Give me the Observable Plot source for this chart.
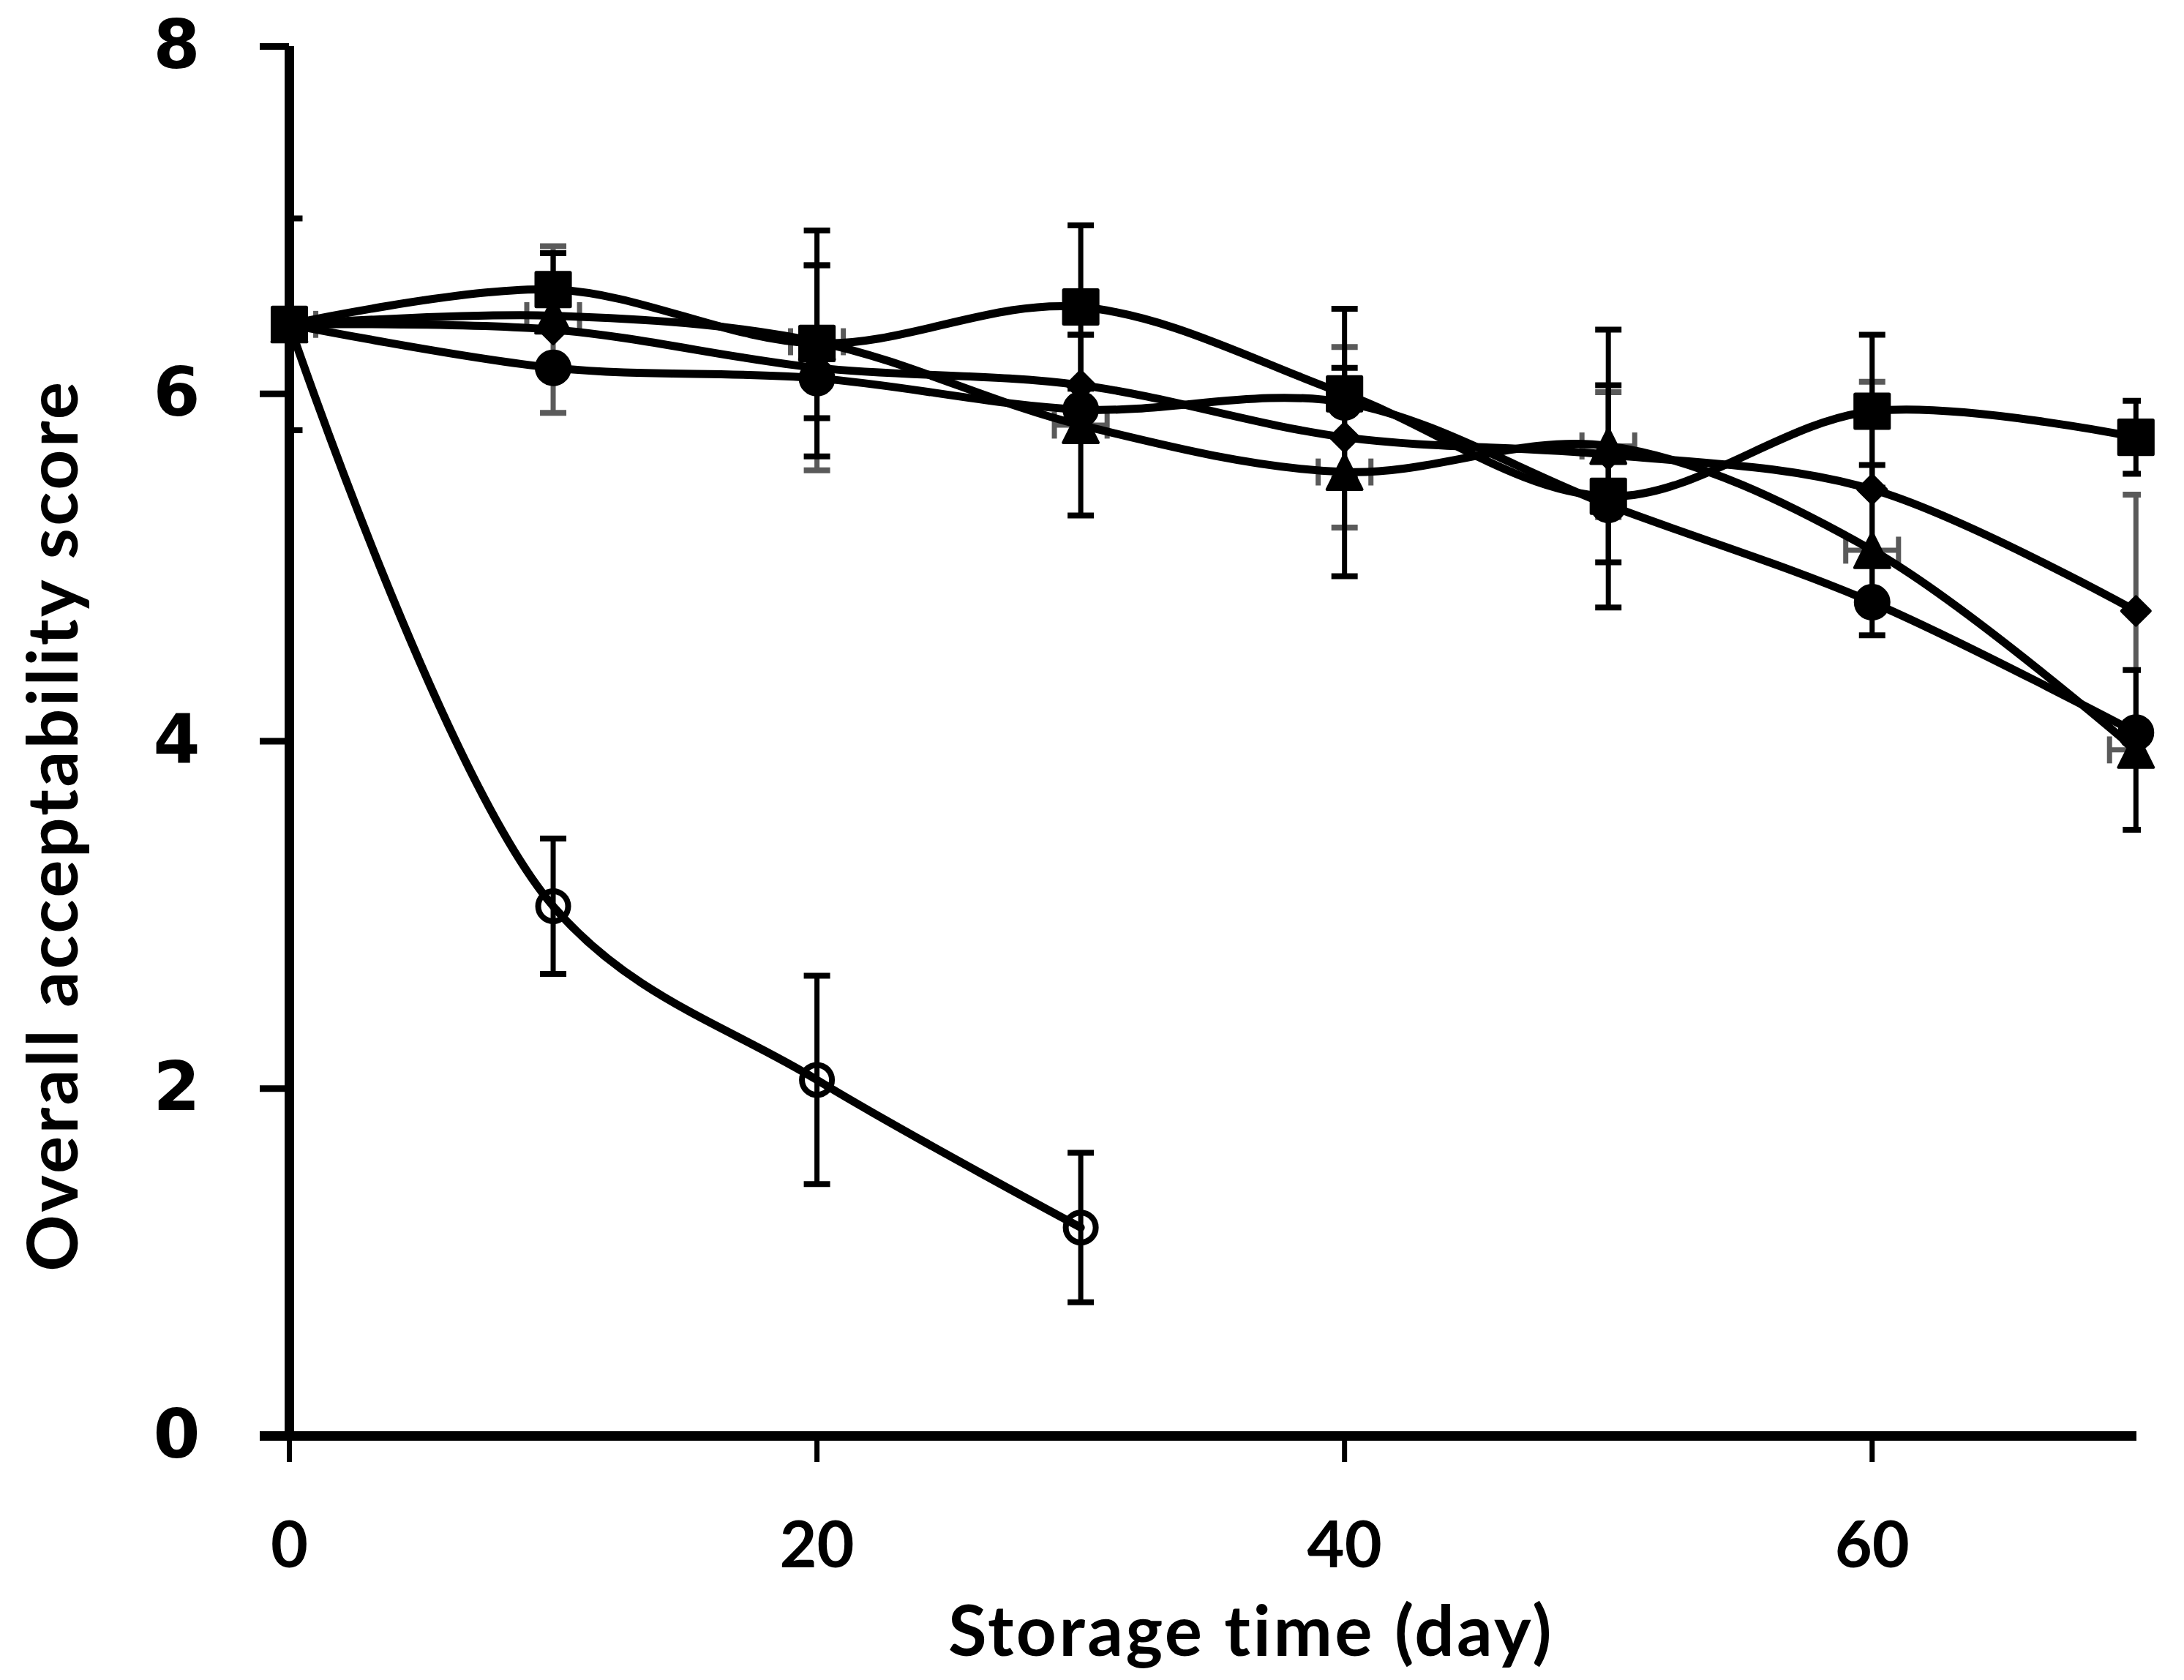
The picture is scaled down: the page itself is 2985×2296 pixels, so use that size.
<!DOCTYPE html>
<html>
<head>
<meta charset="utf-8">
<script src="https://cdn.jsdelivr.net/npm/d3@7"></script>
<script src="https://cdn.jsdelivr.net/npm/@observablehq/plot@0.6"></script>
<style>
  html, body { margin: 0; padding: 0; background: #ffffff; }
</style>
</head>
<body>
<div id="chart"></div>
<script>
// Sampling days for the four stored treatments
const days = [0, 10, 20, 30, 40, 50, 60, 70];

// Filled squares: mean score and standard deviation
const squareScore = [6.40, 6.60, 6.29, 6.50, 6.00, 5.41, 5.90, 5.75];
const squareSd    = [0.61, 0.21, 0.65, 0.47, 0.49, 0.64, 0.44, 0.21];

// Filled triangles (also carry a ±1 day spread on the time axis)
const triangleScore = [6.40, 6.45, 6.30, 5.82, 5.55, 5.70, 5.10, 3.95];
const triangleSd    = [null, null, 0.44, 0.52, 0.60, 0.67, 0.49, 0.46];
const triangleDaySpread = 1;

// Filled diamonds
const diamondScore = [6.40, 6.37, 6.15, 6.05, 5.75, 5.65, 5.45, 4.75];
const diamondSd    = [null, 0.48, 0.59, 0.29, 0.52, 0.36, 0.62, 0.67];

// Filled circles
const circleScore = [6.40, 6.15, 6.09, 5.91, 5.95, 5.36, 4.80, 4.05];

// Open circles (control, stopped after day 30)
const controlDays  = [0, 10, 20, 30];
const controlScore = [6.40, 3.05, 2.05, 1.20];
const controlSd    = [null, 0.39, 0.60, 0.43];

// Axes
const xTicks = [0, 20, 40, 60];
const yTicks = [0, 2, 4, 6, 8];
const xTitle = "Storage time (day)";
const yTitle = "Overall acceptability score";

const black = "#000000";
const gray = "#5a5a5a";

const seriesList = [
  {name: "square",   days, score: squareScore,   sd: squareSd,   barColor: black},
  {name: "triangle", days, score: triangleScore, sd: triangleSd, barColor: black},
  {name: "diamond",  days, score: diamondScore,  sd: diamondSd,  barColor: gray},
  {name: "circle",   days, score: circleScore,   sd: null,       barColor: gray},
  {name: "control",  days: controlDays, score: controlScore, sd: controlSd, barColor: black}
];

const points = seriesList.flatMap(s => s.days.map((day, i) => ({
  series: s.name,
  day,
  score: s.score[i],
  sd: s.sd ? s.sd[i] : null,
  barColor: s.barColor
})));

const withSd = points.filter(d => d.sd != null);
const grayBars = withSd.filter(d => d.barColor === gray);
const blackBars = withSd.filter(d => d.barColor === black);
const trianglePoints = points.filter(d => d.series === "triangle");
const of = name => points.filter(d => d.series === name);

// Symbols for error-bar caps and the marker shapes
const hCap = {draw(ctx, size) { const w = Math.sqrt(size) / 2; ctx.moveTo(-w, 0); ctx.lineTo(w, 0); }};
const vCap = {draw(ctx, size) { const h = Math.sqrt(size) / 2; ctx.moveTo(0, -h); ctx.lineTo(0, h); }};
const upTriangle = {draw(ctx, size) {
  const s = Math.sqrt(size) / 2;
  ctx.moveTo(0, -s); ctx.lineTo(s, s); ctx.lineTo(-s, s); ctx.closePath();
}};

const capR = 20.3;   // cap length ≈ 36px

function errorBars(data, color) {
  return [
    Plot.ruleX(data, {x: "day", y1: d => d.score - d.sd, y2: d => d.score + d.sd,
      stroke: color, strokeWidth: 7, clip: true}),
    Plot.dot(data, {x: "day", y: d => d.score + d.sd, symbol: hCap, r: capR,
      stroke: color, strokeWidth: 8, fill: "none", clip: true}),
    Plot.dot(data, {x: "day", y: d => d.score - d.sd, symbol: hCap, r: capR,
      stroke: color, strokeWidth: 8, fill: "none", clip: true})
  ];
}

const chart = Plot.plot({
  width: 2985,
  height: 2296,
  marginLeft: 395,
  marginRight: 59,
  marginTop: 63,
  marginBottom: 334,
  style: {background: "#ffffff", color: "#000000", overflow: "visible"},
  x: {domain: [0, 70.2]},
  y: {domain: [0, 8]},
  marks: [
    // axis lines
    Plot.ruleY([0], {stroke: black, strokeWidth: 13, insetLeft: -40, insetRight: 6}),
    Plot.ruleX([0], {stroke: black, strokeWidth: 13, insetBottom: -7}),
    Plot.axisY({ticks: yTicks, tickSize: 40, tickPadding: 82, strokeWidth: 9,
      fontSize: 92, fontFamily: "DejaVu Sans", fontWeight: "bold", label: null, tickFormat: d => String(d)}),
    Plot.axisX({ticks: xTicks, tickSize: 36, tickPadding: 81, strokeWidth: 7,
      fontSize: 88, fontFamily: "Lato", fontWeight: "bold", label: null, tickFormat: d => String(d)}),

    // horizontal spread on the triangle series
    Plot.ruleY(trianglePoints, {y: "score", x1: d => d.day - triangleDaySpread, x2: d => d.day + triangleDaySpread,
      stroke: gray, strokeWidth: 7, clip: true}),
    Plot.dot(trianglePoints, {x: d => d.day - triangleDaySpread, y: "score", symbol: vCap, r: 20.8,
      stroke: gray, strokeWidth: 7, fill: "none", clip: true}),
    Plot.dot(trianglePoints, {x: d => d.day + triangleDaySpread, y: "score", symbol: vCap, r: 20.8,
      stroke: gray, strokeWidth: 7, fill: "none", clip: true}),

    // vertical error bars
    ...errorBars(grayBars, gray),
    ...errorBars(blackBars, black),

    // smoothed lines
    Plot.line(points, {x: "day", y: "score", z: "series", curve: "catmull-rom",
      stroke: black, strokeWidth: 11, strokeLinejoin: "round", strokeLinecap: "round"}),

    // markers
    Plot.dot(of("square"), {x: "day", y: "score", symbol: "square", r: 26,
      fill: black, stroke: black, strokeWidth: 5, strokeLinejoin: "round"}),
    Plot.dot(of("circle"), {x: "day", y: "score", symbol: "circle", r: 23,
      fill: black, stroke: black, strokeWidth: 4}),
    Plot.dot(of("diamond"), {x: "day", y: "score", symbol: "diamond2", r: 17.6,
      fill: black, stroke: black, strokeWidth: 4, strokeLinejoin: "round"}),
    Plot.dot(of("triangle"), {x: "day", y: "score", symbol: upTriangle, r: 27,
      fill: black, stroke: black, strokeWidth: 4, strokeLinejoin: "round"}),
    Plot.dot(of("control"), {x: "day", y: "score", symbol: "circle", r: 20.5,
      fill: "none", stroke: black, strokeWidth: 8}),

    // axis titles
    Plot.text([xTitle], {text: d => d, frameAnchor: "bottom", textAnchor: "middle", dx: 49, dy: 270,
      lineAnchor: "middle", fontSize: 96, fontFamily: "Lato", fontWeight: "bold", fill: black}),
    Plot.text([yTitle], {text: d => d, frameAnchor: "left", textAnchor: "middle", rotate: -90, dx: -320, dy: 115,
      lineAnchor: "middle", fontSize: 96, fontFamily: "Lato", fontWeight: "bold", fill: black})
  ]
});

// slightly wider tracking on the two axis titles
d3.select(chart).selectAll("text")
  .filter(function() { return this.textContent === xTitle || this.textContent === yTitle; })
  .style("letter-spacing", "3.5px");

document.getElementById("chart").appendChild(chart);
</script>
</body>
</html>
